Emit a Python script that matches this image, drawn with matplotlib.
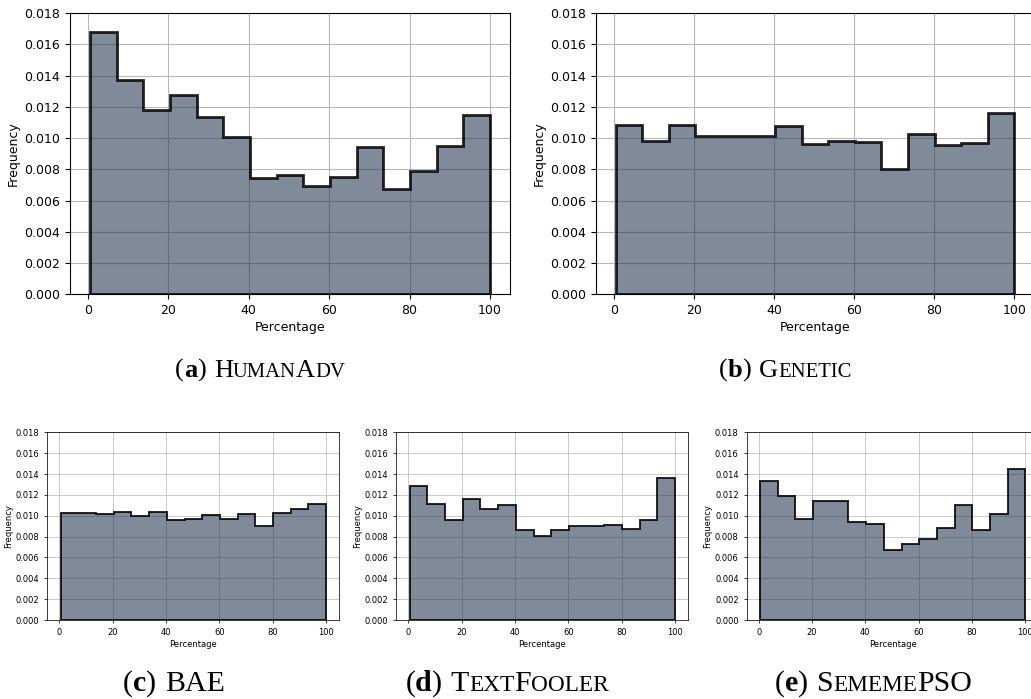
import numpy as np
import matplotlib
matplotlib.use("Agg")
import matplotlib.pyplot as plt
from matplotlib.text import Annotation

# bin edges (15 bins, 0.5 .. 100)
edges = np.linspace(0.5, 100, 16)

human_adv = [0.01678, 0.01369, 0.01181, 0.01273, 0.01134, 0.01008, 0.00741, 0.00764,
             0.00694, 0.00752, 0.00940, 0.00673, 0.00786, 0.00950, 0.01147]
genetic = [0.01083, 0.00984, 0.01083, 0.01016, 0.01016, 0.01016, 0.01078, 0.00961,
           0.00978, 0.00972, 0.00799, 0.01023, 0.00954, 0.00965, 0.01162]
bae = [0.01025, 0.01025, 0.01020, 0.01040, 0.01000, 0.01040, 0.00955, 0.00970,
       0.01010, 0.00970, 0.01020, 0.00900, 0.01025, 0.01060, 0.01110]
textfooler = [0.01281, 0.01115, 0.00958, 0.01163, 0.01063, 0.01105, 0.00865, 0.00804,
              0.00865, 0.00903, 0.00903, 0.00910, 0.00874, 0.00958, 0.01358]
sememepso = [0.01331, 0.01186, 0.00964, 0.01138, 0.01138, 0.00940, 0.00920, 0.00670,
             0.00730, 0.00780, 0.00880, 0.01100, 0.00860, 0.01020, 0.01450]

# caption pieces: (text, kind) kind: r=regular, b=bold, s=small caps
captions = [
    [("(", "r"), ("a", "b"), (")", "r"), ("H", "r"), ("UMAN", "s"), ("A", "r"), ("DV", "s")],
    [("(", "r"), ("b", "b"), (")", "r"), ("G", "r"), ("ENETIC", "s")],
    [("(", "r"), ("c", "b"), (")", "r"), ("BAE", "r")],
    [("(", "r"), ("d", "b"), (")", "r"), ("T", "r"), ("EXT", "s"), ("F", "r"), ("OOLER", "s")],
    [("(", "r"), ("e", "b"), (")", "r"), ("S", "r"), ("EMEME", "s"), ("PSO", "r")],
]

W, H = 1031, 699
fig = plt.figure(figsize=(W / 100, H / 100), dpi=100)


def box(l, r, t, b):
    return [l / W, (H - b) / H, (r - l) / W, (b - t) / H]


panels = [
    (human_adv, box(70, 510, 13, 294.3), 9, 2.0, 260, 377, 19),
    (genetic, box(595.8, 1034.3, 13, 294.3), 9, 2.0, 785, 377, 19),
    (bae, box(47.4, 339.3, 432.3, 620), 6, 1.4, 174, 691, 21.5),
    (textfooler, box(396.4, 688.3, 432.3, 620), 6, 1.4, 507, 691, 21.5),
    (sememepso, box(746.8, 1038.6, 432.3, 620), 6, 1.4, 873.5, 691, 21.5),
]

centers = (edges[:-1] + edges[1:]) / 2
serif = "Liberation Serif"
cap_items = []

for i, (vals, pos, fs, lw, cx, cy, cfs) in enumerate(panels):
    ax = fig.add_axes(pos)
    ax.set_axisbelow(True)
    ax.grid(True, color="#b8b8b8", linewidth=0.8 * fs / 9)
    ax.hist(centers, bins=edges, weights=vals, histtype="stepfilled",
            facecolor=(0.17, 0.24, 0.33, 0.6), edgecolor=(0, 0, 0, 0.85), linewidth=lw)
    ax.set_ylim(0, 0.018)
    ax.set_yticks(np.arange(0, 0.0181, 0.002))
    ax.set_xticks([0, 20, 40, 60, 80, 100])
    ax.tick_params(labelsize=fs, length=3.5 * fs / 9, width=0.8 * fs / 9)
    for s in ax.spines.values():
        s.set_linewidth(0.8 * fs / 9)
    ax.set_xlabel("Percentage", fontsize=fs, labelpad=3 * fs / 9)
    ax.set_ylabel("Frequency", fontsize=fs, labelpad=3 * fs / 9)

    # caption built from pieces (small caps faked with smaller capitals)
    y = (H - cy) / H
    prev = None
    pieces = []
    for j, (txt, kind) in enumerate(captions[i]):
        size = cfs * 0.78 if kind == "s" else cfs
        weight = "bold" if kind == "b" else "normal"
        if prev is None:
            t = fig.text(cx / W, y, txt, fontsize=size, fontweight=weight,
                         family=serif, ha="left", va="baseline")
        else:
            gap = cfs * 0.3 if j == 3 else 0
            t = Annotation(txt, xy=(1, y), xycoords=(prev, "figure fraction"),
                           xytext=(gap, 0), textcoords="offset points",
                           fontsize=size, fontweight=weight, family=serif,
                           ha="left", va="baseline")
            fig.add_artist(t)
        pieces.append(t)
        prev = t
    cap_items.append((pieces, cx))

# center each caption on its x position
fig.canvas.draw()
r = fig.canvas.get_renderer()
for pieces, cx in cap_items:
    x0 = pieces[0].get_window_extent(r).x0
    x1 = pieces[-1].get_window_extent(r).x1
    shift = cx - (x0 + x1) / 2
    px, py = pieces[0].get_position()
    pieces[0].set_position((px + shift / W, py))

fig.savefig("out.png", dpi=100)
